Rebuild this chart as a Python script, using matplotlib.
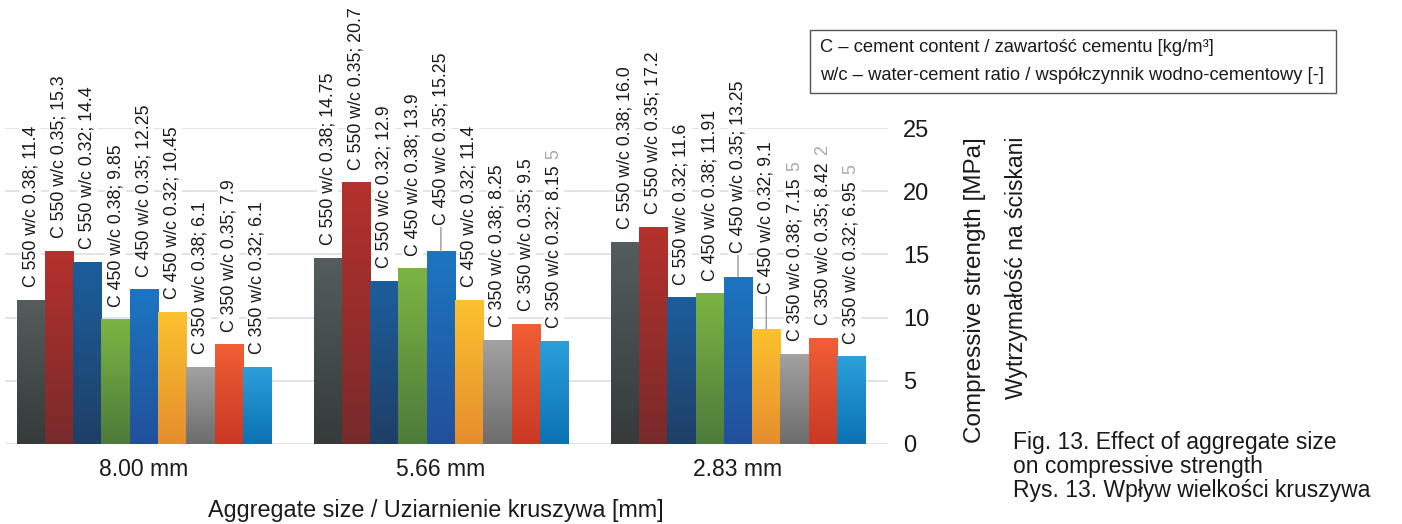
import numpy as np
import matplotlib
matplotlib.use("Agg")
import matplotlib.pyplot as plt
from matplotlib.colors import LinearSegmentedColormap
from matplotlib.patches import Rectangle

plt.rcParams['font.family'] = ['Liberation Sans', 'DejaVu Sans']

# data
groups = ["8.00 mm", "5.66 mm", "2.83 mm"]
cement = [550, 550, 550, 450, 450, 450, 350, 350, 350]
wc = ["0.38", "0.35", "0.32", "0.38", "0.35", "0.32", "0.38", "0.35", "0.32"]
vals_800 = [11.4, 15.3, 14.4, 9.85, 12.25, 10.45, 6.1, 7.9, 6.1]
vals_566 = [14.75, 20.7, 12.9, 13.9, 15.25, 11.4, 8.25, 9.5, 8.15]
vals_283 = [16.0, 17.2, 11.6, 11.91, 13.25, 9.1, 7.15, 8.42, 6.95]
y_ticks = [0, 5, 10, 15, 20, 25]

# stray digits visible in the original labels
ghost = {(1, 8): "5", (2, 6): "5", (2, 7): "2", (2, 8): "5"}
# labels with a leader line: extra offset in points
leader = {(1, 4): 10, (2, 4): 8, (2, 5): 16}

# top / bottom colours of each series gradient
grad_cols = [("#545c5d", "#343b3a"), ("#b5312d", "#782a2a"), ("#1b5e9c", "#1f3f66"),
             ("#7cb443", "#4d7b3a"), ("#1c75c1", "#22509b"), ("#fcc22e", "#e68e2e"),
             ("#a2a2a2", "#6d6d6d"), ("#f15f36", "#c93824"), ("#2ca0da", "#0a72b3")]

all_vals = [vals_800, vals_566, vals_283]

fig = plt.figure(figsize=(14.02, 5.24), dpi=100)
ax = fig.add_axes([0.0036, 0.1527, 0.6298, 0.603])

bw = 0.0952
n = len(cement)
x = np.arange(len(groups))
ghost_texts = []
for gi, vals in enumerate(all_vals):
    for si in range(n):
        xc = x[gi] + (si - (n - 1) / 2) * bw
        bar = ax.bar(xc, vals[si], width=bw, color=grad_cols[si][0], zorder=2)[0]
        cmap = LinearSegmentedColormap.from_list("g", [grad_cols[si][1], grad_cols[si][0]])
        grad = np.linspace(0, 1, 64).reshape(-1, 1)
        im = ax.imshow(grad, extent=[xc - bw / 2, xc + bw / 2, 0, vals[si]], origin="lower",
                       aspect="auto", cmap=cmap, zorder=3)
        im.set_clip_path(bar)

        label = f"C {cement[si]} w/c {wc[si]}; {vals[si]}"
        off = 9
        if (gi, si) in leader:
            off = 9 + leader[(gi, si)]
            ax.annotate("", xy=(xc, vals[si]), xytext=(0, off), textcoords="offset points",
                        arrowprops=dict(arrowstyle="-", color="#9a9a9a", lw=1,
                                        shrinkA=0, shrinkB=0), zorder=4, annotation_clip=False)
        t = ax.annotate(label, xy=(xc, vals[si]), xytext=(0, off), textcoords="offset points",
                        rotation=90, ha="center", va="bottom", fontsize=12.8, color="#1a1a1a",
                        zorder=6, annotation_clip=False,
                        bbox=dict(boxstyle="square,pad=0.1", fc="white", ec="none"))
        if (gi, si) in ghost:
            ghost_texts.append((t, ghost[(gi, si)]))

for t in y_ticks:
    ax.axhline(t, color="#dde1e6", lw=1.3, zorder=1)

ax.set_xlim(-0.467, 2.505)
ax.set_ylim(0, 25)
ax.set_yticks(y_ticks)
ax.yaxis.tick_right()
ax.tick_params(axis="y", length=0, pad=11, labelsize=17, labelcolor="#1a1a1a")
ax.set_xticks(x)
ax.set_xticklabels(groups)
ax.tick_params(axis="x", length=0, pad=10, labelsize=16.5, labelcolor="#1a1a1a")
for s in ax.spines.values():
    s.set_visible(False)

fig.text(436 / 1402, 1 - 510 / 524, "Aggregate size / Uziarnienie kruszywa [mm]",
         ha="center", va="center", fontsize=16.8, color="#1a1a1a")
fig.text(975 / 1402, 1 - 290 / 524, "Compressive strength [MPa]", rotation=90,
         ha="center", va="center", fontsize=17.5, color="#1a1a1a")
fig.text(1017 / 1402, 1 - 268 / 524, "Wytrzymałość na ściskani", rotation=90,
         ha="center", va="center", fontsize=16.6, color="#1a1a1a")

# legend box
fig.patches.append(Rectangle((810 / 1402, 1 - 93 / 524), 526 / 1402, 63 / 524,
                             transform=fig.transFigure, fill=False, ec="#555555", lw=1))
fig.text(820 / 1402, 1 - 47 / 524, "C – cement content / zawartość cementu [kg/m³]",
         ha="left", va="center", fontsize=13.2, color="#1a1a1a")
fig.text(820 / 1402, 1 - 75 / 524, "w/c – water-cement ratio / współczynnik wodno-cementowy [-]",
         ha="left", va="center", fontsize=13.2, color="#1a1a1a")

# caption
fig.text(1013 / 1402, 1 - 443 / 524, "Fig. 13. Effect of aggregate size",
         ha="left", va="center", fontsize=16.5, color="#1a1a1a")
fig.text(1013 / 1402, 1 - 466 / 524, "on compressive strength",
         ha="left", va="center", fontsize=16.5, color="#1a1a1a")
fig.text(1013 / 1402, 1 - 490 / 524, "Rys. 13. Wpływ wielkości kruszywa",
         ha="left", va="center", fontsize=16.5, color="#1a1a1a")

# stray grey digits just past the end of some labels
fig.canvas.draw()
rend = fig.canvas.get_renderer()
for t, d in ghost_texts:
    bb = t.get_window_extent(rend)
    fig.text(bb.x0 + bb.width / 2, bb.y1 + 7, d, transform=None, rotation=90,
             ha="center", va="bottom", fontsize=12.8, color="#a8a8a8")

fig.savefig("out.png", dpi=100)
